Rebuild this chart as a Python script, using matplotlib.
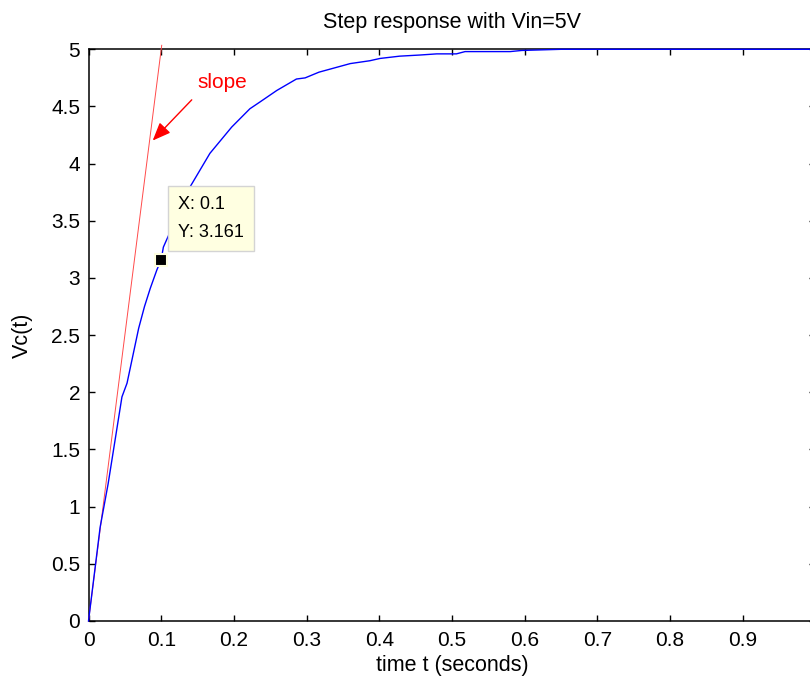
import matplotlib
matplotlib.use("Agg")
import matplotlib.pyplot as plt
import numpy as np

plt.rcParams['font.family'] = ['Liberation Sans', 'DejaVu Sans']

# step response
t = [0, 0.016, 0.027, 0.046, 0.053, 0.069, 0.077, 0.085, 0.094, 0.1, 0.103,
     0.14, 0.167, 0.197, 0.222, 0.236, 0.259, 0.286, 0.298, 0.317, 0.36,
     0.387, 0.401, 0.428, 0.456, 0.479, 0.506, 0.518, 0.58, 0.596, 0.65, 1.0]
vc = [0, 0.82, 1.20, 1.96, 2.08, 2.56, 2.75, 2.91, 3.07, 3.161, 3.27,
      3.80, 4.09, 4.32, 4.48, 4.54, 4.64, 4.74, 4.75, 4.80, 4.875,
      4.90, 4.92, 4.94, 4.95, 4.96, 4.96, 4.98, 4.98, 4.99, 5.0, 5.0]

# initial slope line
slope_t = [0, 0.1007]
slope_v = [0, 5.035]

# datatip
tip_x = 0.1
tip_y = 3.161

xticks = [0, 0.1, 0.2, 0.3, 0.4, 0.5, 0.6, 0.7, 0.8, 0.9]
xlabels = ['0', '0.1', '0.2', '0.3', '0.4', '0.5', '0.6', '0.7', '0.8', '0.9']
yticks = [0, 0.5, 1, 1.5, 2, 2.5, 3, 3.5, 4, 4.5, 5]
ylabels = ['0', '0.5', '1', '1.5', '2', '2.5', '3', '3.5', '4', '4.5', '5']

fig = plt.figure(figsize=(8.1, 6.77), dpi=100)
ax = fig.add_axes([88.5 / 810, 56 / 677, 727 / 810, 571.7 / 677])

ax.plot(slope_t, slope_v, color='#ff4a4a', lw=0.7, clip_on=False, zorder=3)
ax.plot(t, vc, color='#0000ff', lw=1.0, clip_on=False, zorder=3)

# datatip marker + box
ax.plot([tip_x], [tip_y], marker='s', ms=8.5, color='black',
        mec='#ffffe0', mew=1.5, zorder=5)
ax.annotate('X: %g\nY: %.4g' % (tip_x, tip_y), xy=(tip_x, tip_y),
            xytext=(17, 19), textcoords='offset pixels', fontsize=13,
            va='bottom', ha='left', linespacing=1.85, zorder=6,
            bbox=dict(boxstyle='square,pad=0.55', fc='#ffffe1', ec='#d4d4d4', lw=1))

# slope arrow
ax.annotate('', xy=(0.0883, 4.202), xytext=(0.142, 4.558),
            arrowprops=dict(arrowstyle='-|>,head_length=1.1,head_width=0.45',
                            color='red', lw=1, mutation_scale=10,
                            shrinkA=0, shrinkB=0))
ax.text(0.184, 4.663, 'slope', color='red', fontsize=15, ha='center', va='baseline')

ax.set_xlim(0, 1.0)
ax.set_ylim(0, 5)
ax.set_xticks(xticks)
ax.set_xticklabels(xlabels)
ax.set_yticks(yticks)
ax.set_yticklabels(ylabels)
ax.tick_params(direction='in', length=4.5, width=1, top=True, right=True,
               labelsize=15, pad=6)
ax.tick_params(axis='x', pad=7)
for s in ax.spines.values():
    s.set_linewidth(1.1)

ax.set_title('Step response with Vin=5V', fontsize=15.5, pad=15)
ax.set_xlabel('time t (seconds)', fontsize=15.5, labelpad=4)
ax.set_ylabel('Vc(t)', fontsize=15.5, labelpad=13)

fig.savefig('out.png', dpi=100, facecolor='white')
